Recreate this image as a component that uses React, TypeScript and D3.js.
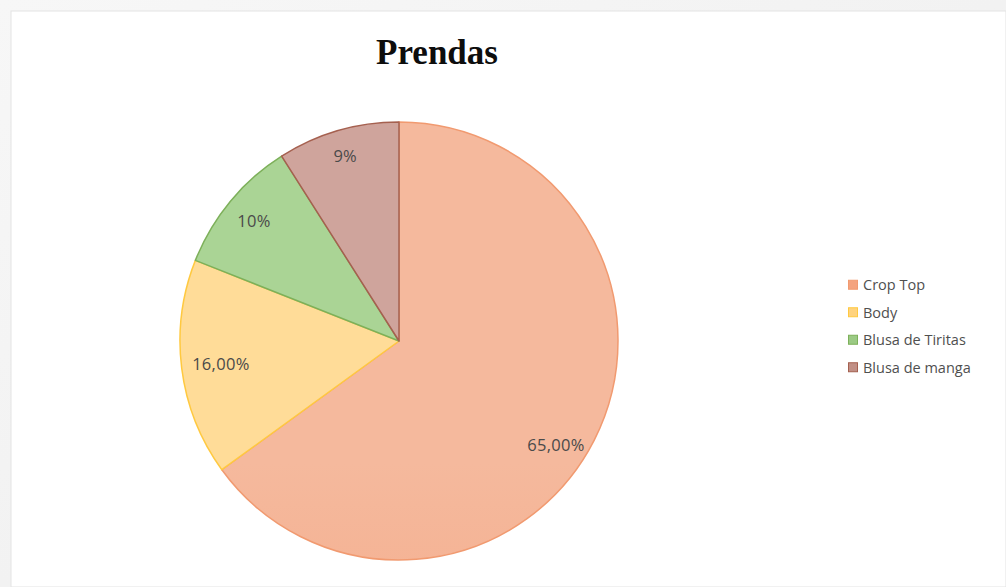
import React from "react";
import * as d3 from "d3";

const categories = ["Crop Top", "Body", "Blusa de Tiritas", "Blusa de manga"];
const values = [65, 16, 10, 9];
const labelTexts = ["65,00%", "16,00%", "10%", "9%"];
const title = "Prendas";

const fillTop = ["#F5B99D", "#FFDC98", "#AAD495", "#CFA49C"];
const fillBottom = ["#F4A37E", "#FFD37E", "#9BCA84", "#C18F85"];
const strokes = ["#F19A70", "#FFC940", "#7DB05A", "#A5604F"];
const labelShiftDeg = [6.5, 0, 0, 0];
const labelRadiusFactor = [0.86, 0.82, 0.86, 0.88];

const W = 1006;
const H = 587;
const cx = 399;
const cy = 341;
const R = 219;

export default function App() {
  const pie = d3.pie<number>().sort(null).value((d) => d)(values);
  const arc = d3.arc<d3.PieArcDatum<number>>().innerRadius(0).outerRadius(R);
  const legendY = d3.scaleBand<string>().domain(categories).range([271, 381]);

  return (
    <svg
      width={W}
      height={H}
      style={{ position: "absolute", left: 0, top: 0, display: "block" }}
    >
      <defs>
        <linearGradient id="frame" x1="0" y1="0" x2="1" y2="1">
          <stop offset="0" stopColor="#f7f7f7" />
          <stop offset="1" stopColor="#ededed" />
        </linearGradient>
        {categories.map((c, i) => (
          <linearGradient
            key={c}
            id={`g${i}`}
            gradientUnits="userSpaceOnUse"
            x1={0}
            y1={cy - R}
            x2={0}
            y2={cy + R}
          >
            <stop offset="0" stopColor={fillTop[i]} />
            <stop offset="1" stopColor={fillBottom[i]} />
          </linearGradient>
        ))}
      </defs>
      <rect x={0} y={0} width={W} height={H} fill="url(#frame)" />
      <rect x={11} y={11} width={W - 11} height={H - 11} fill="#ffffff" stroke="#e3e3e3" strokeWidth={1} />
      <text
        x={437}
        y={64}
        textAnchor="middle"
        fontFamily="'Liberation Serif', 'DejaVu Serif', serif"
        fontWeight="bold"
        fontSize={35}
        fill="#0d0d0d"
      >
        {title}
      </text>
      <g transform={`translate(${cx},${cy})`}>
        {pie.map((p, i) => (
          <path
            key={i}
            d={arc(p) || ""}
            fill={`url(#g${i})`}
            stroke={strokes[i]}
            strokeWidth={1.5}
            strokeLinejoin="round"
          />
        ))}
        {pie.map((p, i) => {
          const a = (p.startAngle + p.endAngle) / 2 + (labelShiftDeg[i] * Math.PI) / 180;
          const r = R * labelRadiusFactor[i];
          const x = Math.sin(a) * r;
          const y = -Math.cos(a) * r;
          return (
            <text
              key={`l${i}`}
              x={x}
              y={y}
              textAnchor="middle"
              dominantBaseline="central"
              fontFamily="'Open Sans', sans-serif"
              fontSize={16.5}
              letterSpacing={0.3}
              fill="#4a4a4a"
            >
              {labelTexts[i]}
            </text>
          );
        })}
      </g>
      <g>
        {categories.map((c, i) => {
          const y = (legendY(c) || 0) + legendY.bandwidth() / 2;
          return (
            <g key={c}>
              <rect
                x={848.5}
                y={y - 4.5}
                width={9}
                height={9}
                fill={fillBottom[i]}
                stroke={strokes[i]}
                strokeWidth={1}
              />
              <text
                x={863}
                y={y}
                dominantBaseline="central"
                fontFamily="'Open Sans', sans-serif"
                fontSize={14.5}
                fill="#4f4f4f"
              >
                {c}
              </text>
            </g>
          );
        })}
      </g>
    </svg>
  );
}
